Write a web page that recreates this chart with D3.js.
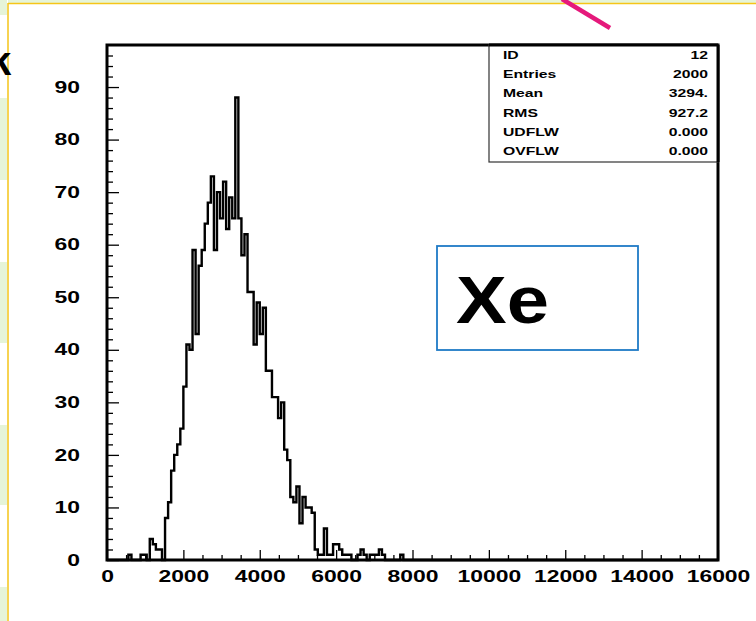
<!DOCTYPE html>
<html><head><meta charset="utf-8">
<script src="https://cdn.jsdelivr.net/npm/d3@7"></script>
<style>body{margin:0;background:#fff;overflow:hidden}svg{display:block}</style>
</head><body><svg id="c" width="756" height="621"></svg>
<script>
// Histogram: 200 bins of width 80 between 0 and 16000; counts listed for bins 0..99 (0-8000), rest empty
const binLow = 0, binWidth = 80;
const counts = [
 0,0,0,0,0,0,0,1,0,0,
 0,1,1,0,4,3,2,2,0,8,
 11,17,20,22,25,33,41,40,59,43,
 56,59,64,68,73,59,70,65,72,63,
 69,65,88,65,58,62,51,51,41,49,
 43,48,36,36,31,31,27,30,21,19,
 12,11,14,7,12,10,10,9,2,1,
 1,6,1,1,3,3,2,1,1,1,
 0,0,1,2,1,0,1,1,1,2,
 1,0,0,0,0,0,1,0,0,0
];
const xMajorTicks = [0,2000,4000,6000,8000,10000,12000,14000,16000];
const yMajorTicks = [0,10,20,30,40,50,60,70,80,90];
const statLabels = ["ID","Entries","Mean","RMS","UDFLW","OVFLW"];
const statValues = ["12","2000","3294.","927.2","0.000","0.000"];
const boxLabel = "Xe";

const svg = d3.select("#c");
const L=107,R=718,T=45,B=560;
const SX=1.43; // horizontal stretch of the pasted picture's text
const x = d3.scaleLinear().domain([0,16000]).range([L,R]);
const y = d3.scaleLinear().domain([0,98]).range([B,T]);
const font="Liberation Sans, Arial, Helvetica, sans-serif";

// slide decorations
[[0,15],[98,180],[262,343],[425,505],[587,621]].forEach(b=>{
  svg.append("rect").attr("x",0).attr("y",b[0]).attr("width",7).attr("height",b[1]-b[0]).attr("fill","#e6f4d8");
});
svg.append("rect").attr("x",8).attr("y",0).attr("width",748).attr("height",3).attr("fill","#e6f4d8");
svg.append("line").attr("x1",8).attr("x2",756).attr("y1",3.5).attr("y2",3.5).attr("stroke","#f5c518").attr("stroke-width",1.5);
svg.append("line").attr("x1",8).attr("x2",8).attr("y1",3).attr("y2",621).attr("stroke","#f5c518").attr("stroke-width",1.5);
svg.append("text").attr("x",-11).attr("y",75).attr("font-family",font).attr("font-weight","bold").attr("font-size",40).attr("fill","#000").text("k");
svg.append("line").attr("x1",562).attr("y1",-1).attr("x2",610).attr("y2",28).attr("stroke","#e5197b").attr("stroke-width",4.5);

// histogram outline
const pts=[[x(binLow),y(0)]];
counts.forEach((c,i)=>{
  const x0=x(binLow+i*binWidth), x1=x(binLow+(i+1)*binWidth);
  pts.push([x0,y(c)]); pts.push([x1,y(c)]);
});
pts.push([x(binLow+counts.length*binWidth),y(0)]);
pts.push([x(16000),y(0)]);
svg.append("path").attr("d",d3.line()(pts)).attr("fill","none").attr("stroke","#000").attr("stroke-width",2.4).attr("stroke-linejoin","miter");

function stretch(sel){
  sel.each(function(){
    const t=d3.select(this);
    const x0=+t.attr("x")||0, y0=+t.attr("y")||0;
    t.attr("x",0).attr("y",0).attr("transform",`translate(${x0},${y0}) scale(${SX},1)`);
  });
}
// y axis
const yMinor = d3.range(0,98,2).filter(v=>v%10!==0);
svg.append("g").attr("transform",`translate(${L},0)`)
 .call(d3.axisLeft(y).tickValues(yMinor).tickSize(-6).tickFormat(""))
 .call(g=>{g.select(".domain").remove();g.selectAll("line").attr("stroke","#000").attr("stroke-width",1.3);});
svg.append("g").attr("transform",`translate(${L},0)`)
 .call(d3.axisLeft(y).tickValues(yMajorTicks).tickSize(-12).tickPadding(27).tickFormat(d3.format("d")))
 .call(g=>{g.select(".domain").remove();g.selectAll("line").attr("stroke","#000").attr("stroke-width",1.3);
   g.selectAll("text").attr("font-family",font).attr("font-weight","bold").attr("font-size",16).attr("fill","#000").call(stretch);});
// x axis
const xMinor = d3.range(0,16001,500).filter(v=>v%2000!==0);
svg.append("g").attr("transform",`translate(0,${B})`)
 .call(d3.axisBottom(x).tickValues(xMinor).tickSize(-5).tickFormat(""))
 .call(g=>{g.select(".domain").remove();g.selectAll("line").attr("stroke","#000").attr("stroke-width",1.3);});
svg.append("g").attr("transform",`translate(0,${B})`)
 .call(d3.axisBottom(x).tickValues(xMajorTicks).tickSize(-10).tickPadding(11).tickFormat(d3.format("d")))
 .call(g=>{g.select(".domain").remove();g.selectAll("line").attr("stroke","#000").attr("stroke-width",1.3);
   g.selectAll("text").attr("font-family",font).attr("font-weight","bold").attr("font-size",16).attr("fill","#000").call(stretch);});

// frame
svg.append("rect").attr("x",L).attr("y",T).attr("width",R-L).attr("height",B-T).attr("fill","none").attr("stroke","#000").attr("stroke-width",3);

// stats box
const bx0=489, bx1=R, by1=162;
svg.append("rect").attr("x",bx0).attr("y",T).attr("width",bx1-bx0).attr("height",by1-T).attr("fill","#fff").attr("stroke","#333").attr("stroke-width",1.2);
svg.append("line").attr("x1",bx0).attr("x2",R).attr("y1",T).attr("y2",T).attr("stroke","#000").attr("stroke-width",3);
svg.append("line").attr("x1",R).attr("x2",R).attr("y1",T).attr("y2",by1).attr("stroke","#000").attr("stroke-width",3);
const rowY = d3.scaleLinear().domain([0,statLabels.length-1]).range([59,155]);
statLabels.forEach((s,i)=>{
  svg.append("text").attr("x",503).attr("y",rowY(i)).attr("font-family",font).attr("font-weight","bold").attr("font-size",11).text(s).call(stretch);
  svg.append("text").attr("x",708).attr("y",rowY(i)).attr("text-anchor","end").attr("font-family",font).attr("font-weight","bold").attr("font-size",11).text(statValues[i]).call(stretch);
});

// Xe box
svg.append("rect").attr("x",437).attr("y",246).attr("width",201).attr("height",104).attr("fill","#fff").attr("stroke","#1f7ac6").attr("stroke-width",1.8);
svg.append("text").attr("x",456).attr("y",323).attr("font-family",font).attr("font-weight","bold").attr("font-size",67)
  .attr("textLength",93).attr("lengthAdjust","spacingAndGlyphs").text(boxLabel);
</script></body></html>
